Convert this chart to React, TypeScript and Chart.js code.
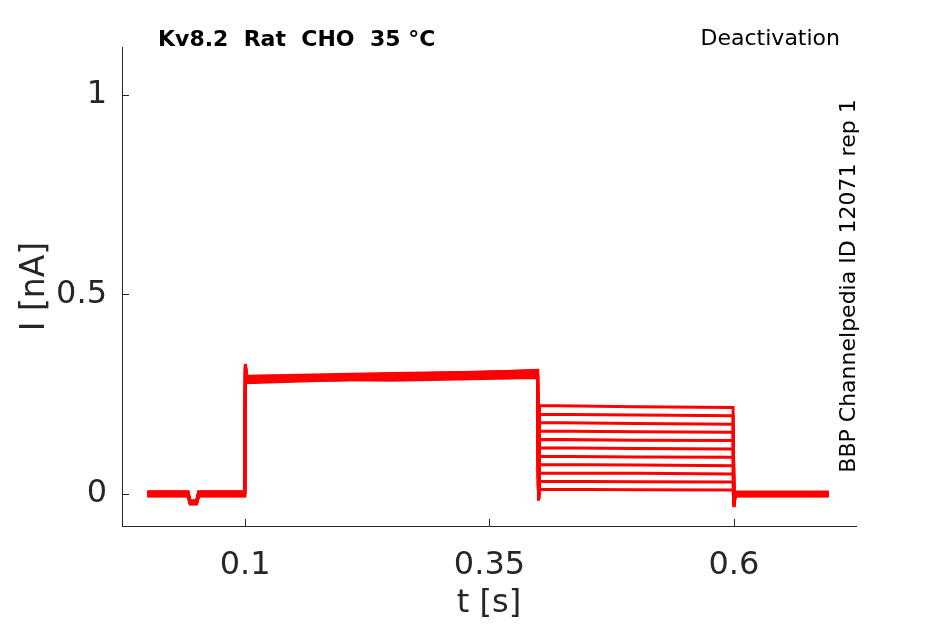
import { useEffect, useRef } from "react";
import { Chart, registerables } from "chart.js";

Chart.register(...registerables);

// time points of every sweep, in s
const timePoints = [0, 0.0415, 0.0438, 0.0502, 0.0525, 0.0995, 0.1003, 0.1012, 0.25, 0.3992, 0.4002, 0.4012, 0.5, 0.5992, 0.6003, 0.6012, 0.697];

// per sweep levels, in nA (11 sweeps)
const baselineLevels = [0.005, -0.004, 0.002, 0.006, -0.005, 0.0, 0.003, -0.002, 0.004, -0.003, 0.001];
const dipLevels = [-0.02, -0.024, -0.017, -0.022, -0.025, -0.019, -0.021, -0.023, -0.018, -0.022, -0.02];
const onsetPeaks = [0.326, 0.322, 0.318, 0.324, 0.32, 0.316, 0.322, 0.325, 0.319, 0.321, 0.317];
const activationStart = [0.294, 0.289, 0.284, 0.28, 0.292, 0.286, 0.279, 0.29, 0.283, 0.287, 0.295];
const activationMid = [0.3, 0.294, 0.288, 0.297, 0.285, 0.299, 0.29, 0.296, 0.287, 0.293, 0.302];
const activationEnd = [0.309, 0.301, 0.295, 0.306, 0.292, 0.303, 0.297, 0.31, 0.294, 0.299, 0.307];
const tailDips = [-0.016, -0.014, -0.012, -0.015, -0.013, -0.011, -0.014, -0.016, -0.012, -0.015, -0.013];
const deactStart = [0.222, 0.2, 0.179, 0.158, 0.137, 0.116, 0.095, 0.074, 0.053, 0.032, 0.012];
const deactMid = [0.219, 0.198, 0.177, 0.156, 0.135, 0.114, 0.093, 0.073, 0.052, 0.031, 0.011];
const deactEnd = [0.217, 0.196, 0.175, 0.155, 0.134, 0.113, 0.092, 0.071, 0.05, 0.03, 0.01];
const offsetDips = [-0.032, -0.028, -0.025, -0.03, -0.022, -0.027, -0.033, -0.024, -0.029, -0.026, -0.031];
const finalLevels = [0.004, -0.003, 0.005, 0.0, -0.004, 0.002, -0.005, 0.001, 0.003, -0.002, 0.0];

const xTicks = [0.1, 0.35, 0.6];
const yTicks = [0, 0.5, 1];
const xTickLabels = ["0.1", "0.35", "0.6"];
const yTickLabels = ["0", "0.5", "1"];

const headerText = "Kv8.2  Rat  CHO  35 °C";
const protocolText = "Deactivation";
const sourceText = "BBP Channelpedia ID 12071 rep 1";

const axisColor = "#262626";
const traceColor = "#ff0000";
const fontFamily = "'DejaVu Sans', sans-serif";

function sweepValues(i: number) {
  return [
    baselineLevels[i],
    baselineLevels[i],
    dipLevels[i],
    dipLevels[i],
    baselineLevels[i],
    baselineLevels[i],
    onsetPeaks[i],
    activationStart[i],
    activationMid[i],
    activationEnd[i],
    tailDips[i],
    deactStart[i],
    deactMid[i],
    deactEnd[i],
    offsetDips[i],
    finalLevels[i],
    finalLevels[i],
  ];
}

const decorPlugin = {
  id: "decor",
  afterDraw(chart: Chart) {
    const { ctx, chartArea, scales } = chart;
    ctx.save();
    ctx.strokeStyle = axisColor;
    ctx.lineWidth = 1;
    ctx.beginPath();
    xTicks.forEach((v) => {
      const px = Math.round(scales.x.getPixelForValue(v)) + 0.5;
      ctx.moveTo(px, chartArea.bottom);
      ctx.lineTo(px, chartArea.bottom - 7);
    });
    yTicks.forEach((v) => {
      const py = Math.round(scales.y.getPixelForValue(v)) + 0.5;
      ctx.moveTo(chartArea.left, py);
      ctx.lineTo(chartArea.left + 7, py);
    });
    ctx.stroke();

    ctx.fillStyle = "#000000";
    ctx.textBaseline = "middle";
    ctx.font = `bold 22px ${fontFamily}`;
    ctx.textAlign = "left";
    ctx.fillText(headerText, 158, 40);
    ctx.font = `22px ${fontFamily}`;
    ctx.textAlign = "right";
    ctx.fillText(protocolText, 840, 39);

    ctx.translate(849, 286);
    ctx.rotate(-Math.PI / 2);
    ctx.textAlign = "center";
    ctx.font = `22px ${fontFamily}`;
    ctx.fillText(sourceText, 0, 0);
    ctx.restore();
  },
};

export default function App() {
  const canvasRef = useRef<HTMLCanvasElement | null>(null);
  const chartRef = useRef<Chart | null>(null);

  useEffect(() => {
    if (!canvasRef.current) return;
    if (chartRef.current) chartRef.current.destroy();

    const datasets = deactStart.map((_, i) => ({
      label: `sweep ${i + 1}`,
      data: sweepValues(i).map((y, k) => ({ x: timePoints[k], y })),
      borderColor: traceColor,
      borderWidth: 3,
      pointRadius: 0,
      tension: 0,
      fill: false,
    }));

    chartRef.current = new Chart(canvasRef.current, {
      type: "line",
      data: { datasets },
      options: {
        animation: false,
        responsive: true,
        maintainAspectRatio: false,
        layout: { padding: { top: 47, right: 89, left: 0, bottom: 0 } },
        plugins: { legend: { display: false }, tooltip: { enabled: false } },
        scales: {
          x: {
            type: "linear",
            min: -0.026,
            max: 0.725,
            grid: { display: false, drawTicks: false },
            border: { display: true, color: axisColor, width: 1 },
            afterBuildTicks: (scale) => {
              scale.ticks = xTicks.map((value) => ({ value }));
            },
            afterFit: (scale) => {
              scale.height = 98;
            },
            ticks: {
              color: axisColor,
              padding: 20,
              maxRotation: 0,
              font: { family: fontFamily, size: 32 },
              callback: (value) => xTickLabels[xTicks.indexOf(Number(value))] ?? "",
            },
            title: {
              display: true,
              text: "t [s]",
              color: axisColor,
              font: { family: fontFamily, size: 32 },
              padding: { top: 0, bottom: 1 },
            },
          },
          y: {
            type: "linear",
            min: -0.08,
            max: 1.12,
            grid: { display: false, drawTicks: false },
            border: { display: true, color: axisColor, width: 1 },
            afterBuildTicks: (scale) => {
              scale.ticks = yTicks.map((value) => ({ value }));
            },
            afterFit: (scale) => {
              scale.width = 122;
            },
            ticks: {
              color: axisColor,
              padding: 15,
              font: { family: fontFamily, size: 32 },
              callback: (value) => yTickLabels[yTicks.indexOf(Number(value))] ?? "",
            },
            title: {
              display: true,
              text: "I [nA]",
              color: axisColor,
              font: { family: fontFamily, size: 33 },
              padding: { top: 16, bottom: 0 },
            },
          },
        },
      },
      plugins: [decorPlugin],
    });

    return () => {
      chartRef.current?.destroy();
      chartRef.current = null;
    };
  }, []);

  return (
    <div style={{ position: "fixed", left: 0, top: 0, width: 945, height: 624, background: "#ffffff" }}>
      <canvas ref={canvasRef} />
    </div>
  );
}
